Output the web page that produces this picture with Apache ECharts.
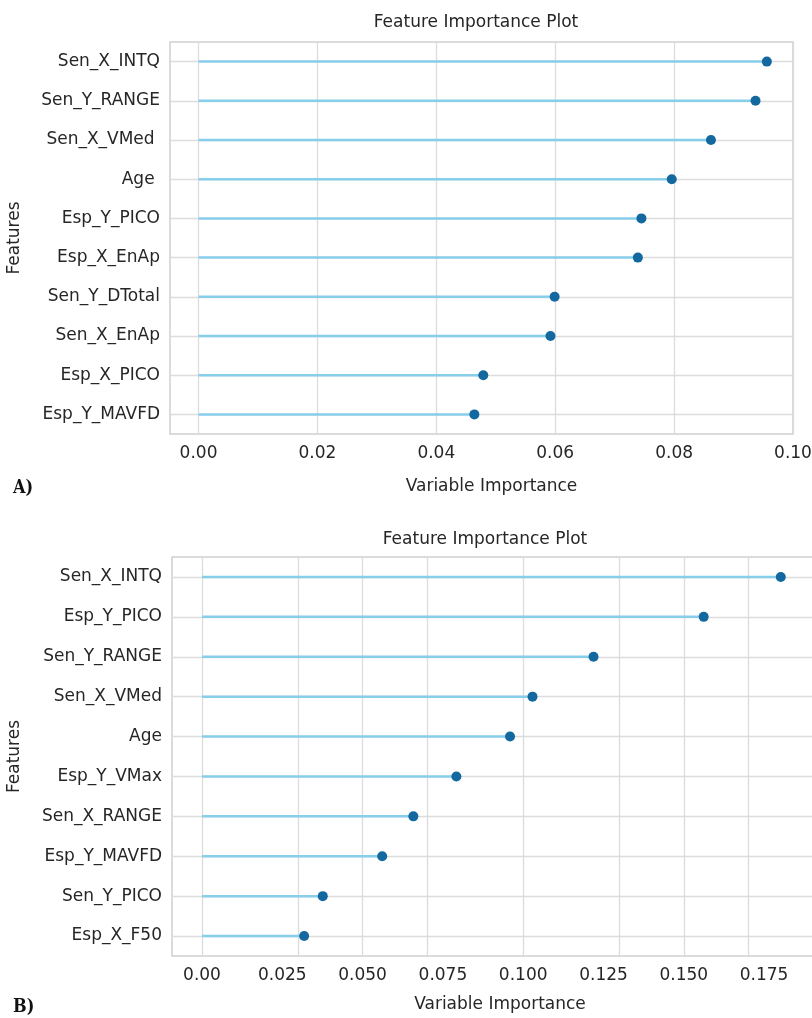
<!DOCTYPE html>
<html>
<head>
<meta charset="utf-8">
<title>Feature Importance Plot</title>
<script src="https://cdn.jsdelivr.net/npm/echarts@6/dist/echarts.min.js"></script>
<style>
  html, body { margin: 0; padding: 0; background: #fff; }
  #chart-container { width: 812px; height: 1018px; }
</style>
</head>
<body>
<div id="chart-container"></div>
<script>
// panel A (top to bottom)
var featuresA = ['Sen_X_INTQ', 'Sen_Y_RANGE', 'Sen_X_VMed ', 'Age ', 'Esp_Y_PICO',
                 'Esp_X_EnAp', 'Sen_Y_DTotal', 'Sen_X_EnAp', 'Esp_X_PICO', 'Esp_Y_MAVFD'];
var importanceA = [0.0956, 0.0937, 0.0862, 0.0796, 0.0745, 0.0739, 0.0599, 0.0592, 0.0479, 0.0464];
var ticksA = [0, 0.02, 0.04, 0.06, 0.08, 0.10];
var tickLabelsA = ['0.00', '0.02', '0.04', '0.06', '0.08', '0.10'];

// panel B (top to bottom)
var featuresB = ['Sen_X_INTQ', 'Esp_Y_PICO', 'Sen_Y_RANGE', 'Sen_X_VMed', 'Age',
                 'Esp_Y_VMax', 'Sen_X_RANGE', 'Esp_Y_MAVFD', 'Sen_Y_PICO', 'Esp_X_F50'];
var importanceB = [0.1802, 0.1562, 0.1219, 0.1029, 0.0959, 0.0792, 0.0658, 0.0561, 0.0376, 0.0318];
var ticksB = [0, 0.025, 0.05, 0.075, 0.10, 0.125, 0.15, 0.175];
var tickLabelsB = ['0.00', '0.025', '0.050', '0.075', '0.100', '0.125', '0.150', '0.175'];

var FONT = 'DejaVu Sans';
var FS = 17;
var TEXT = '#262626';
var STEM = '#87ceeb';
var DOT = '#13699f';
var GRIDLINE = '#dcdcdc';

var dom = document.getElementById('chart-container');
var myChart = echarts.init(dom, null, { renderer: 'canvas' });

function labelFor(ticks, labels) {
    return function (v) {
        for (var i = 0; i < ticks.length; i++) {
            if (Math.abs(ticks[i] - v) < 1e-9) return labels[i];
        }
        return '';
    };
}

function xAxisFor(idx, min, max, ticks, labels, gap, shift) {
    return {
        type: 'value', gridIndex: idx, min: min, max: max,
        name: 'Variable Importance', nameLocation: 'middle', nameGap: gap,
        nameTextStyle: { fontFamily: FONT, fontSize: FS, color: TEXT, padding: [0, 0, 0, shift] },
        axisLine: { show: false }, axisTick: { show: false }, splitLine: { show: false },
        axisLabel: {
            customValues: ticks, formatter: labelFor(ticks, labels),
            fontFamily: FONT, fontSize: FS, color: TEXT, margin: 11
        }
    };
}

function yAxisFor(idx, cats, gap) {
    return {
        type: 'category', gridIndex: idx, data: cats, inverse: true,
        name: 'Features', nameLocation: 'middle', nameGap: gap,
        nameTextStyle: { fontFamily: FONT, fontSize: FS, color: TEXT },
        axisLine: { show: false }, axisTick: { show: false }, splitLine: { show: false },
        axisLabel: { fontFamily: FONT, fontSize: FS, color: TEXT, margin: 10 }
    };
}

function seriesFor(idx, cats, vals, ticks) {
    var lines = cats.map(function (c) { return { yAxis: c }; })
        .concat(ticks.map(function (t) { return { xAxis: t }; }));
    return [
        {
            type: 'line', xAxisIndex: idx, yAxisIndex: idx, data: [], z: 1,
            markLine: {
                z: 1, silent: true, symbol: ['none', 'none'], label: { show: false },
                lineStyle: { color: GRIDLINE, width: 1.3, type: 'solid' },
                emphasis: { disabled: true },
                data: lines
            }
        },
        {
            type: 'bar', xAxisIndex: idx, yAxisIndex: idx, data: vals, z: 6,
            barWidth: 2.5, itemStyle: { color: STEM }, silent: true
        },
        {
            type: 'scatter', xAxisIndex: idx, yAxisIndex: idx, data: vals, z: 7,
            symbolSize: 10, itemStyle: { color: DOT, opacity: 1 }, silent: true
        }
    ];
}

var option = {
    animation: false,
    backgroundColor: '#ffffff',
    title: [
        { text: 'Feature Importance Plot', left: 471, top: 9, textAlign: 'center',
          textStyle: { fontFamily: FONT, fontSize: FS, fontWeight: 'normal', color: TEXT } },
        { text: 'Feature Importance Plot', left: 480, top: 526, textAlign: 'center',
          textStyle: { fontFamily: FONT, fontSize: FS, fontWeight: 'normal', color: TEXT } },
        { text: 'A)', left: 8, top: 474,
          textStyle: { fontFamily: 'DejaVu Serif Condensed', fontSize: 18, fontWeight: 'bold', color: '#111' } },
        { text: 'B)', left: 8, top: 993,
          textStyle: { fontFamily: 'DejaVu Serif Condensed', fontSize: 18, fontWeight: 'bold', color: '#111' } }
    ],
    grid: [
        { left: 170, top: 42, width: 623, height: 392, show: true, outerBoundsMode: 'none',
          borderColor: '#cfcfcf', borderWidth: 1.5, backgroundColor: 'transparent' },
        { left: 172, top: 557, width: 642, height: 399, show: true, outerBoundsMode: 'none',
          borderColor: '#cfcfcf', borderWidth: 1.5, backgroundColor: 'transparent' }
    ],
    xAxis: [
        xAxisFor(0, -0.0048, 0.1, ticksA, tickLabelsA, 44, 20),
        xAxisFor(1, -0.00934, 0.19054, ticksB, tickLabelsB, 40, 14)
    ],
    yAxis: [
        yAxisFor(0, featuresA, 147),
        yAxisFor(1, featuresB, 149)
    ],
    series: seriesFor(0, featuresA, importanceA, ticksA)
        .concat(seriesFor(1, featuresB, importanceB, ticksB))
};

myChart.setOption(option);
window.addEventListener('resize', myChart.resize);
</script>
</body>
</html>
